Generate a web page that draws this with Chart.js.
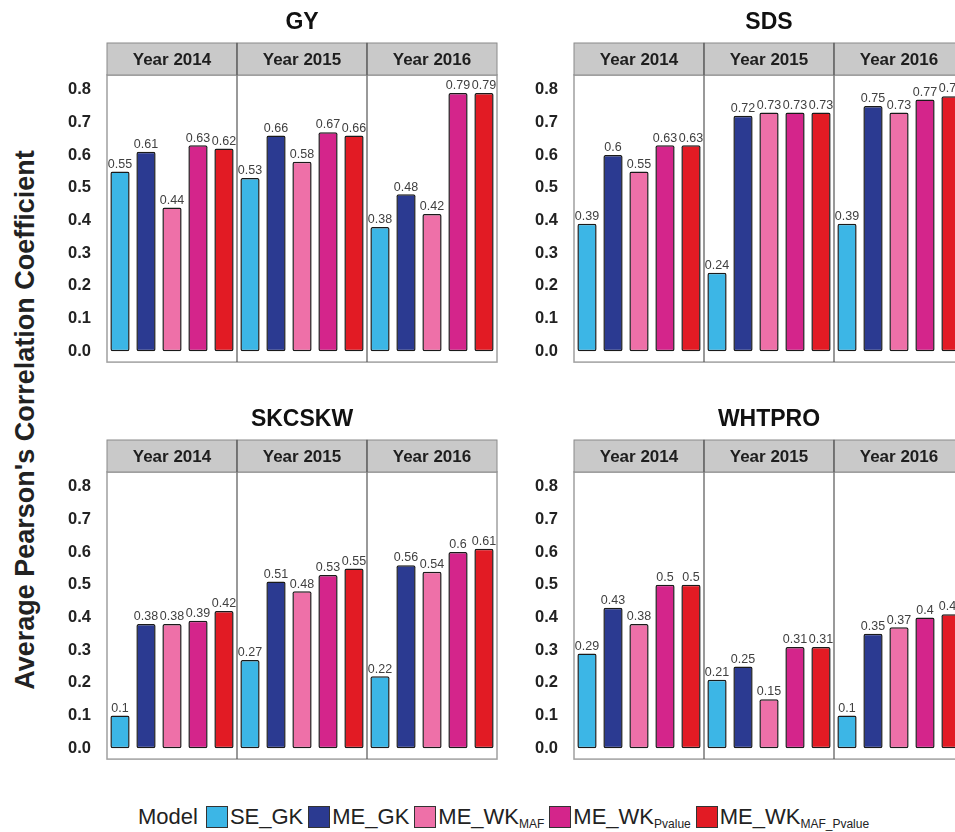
<!DOCTYPE html>
<html>
<head>
<meta charset="utf-8">
<script src="https://cdn.jsdelivr.net/npm/chart.js@4.4.0/dist/chart.umd.min.js"></script>
<style>
  html, body { margin: 0; padding: 0; background: #fff; }
  body { width: 955px; height: 832px; overflow: hidden; position: relative; font-family: "Liberation Sans", Arial, sans-serif; }
  .panel { position: absolute; width: 457px; height: 380px; }
  .ytitle {
    position: absolute; left: 25px; top: 420px;
    transform: translate(-50%, -50%) rotate(-90deg);
    white-space: nowrap; font-weight: bold; font-size: 27px; color: #222;
  }
  .legend {
    position: absolute; left: 138px; top: 806px; height: 22px; display: flex; align-items: center;
    font-size: 22px; color: #222; white-space: nowrap;
  }
  .legend .key { width: 22px; height: 22px; border: 1.5px solid #333; margin: 0 2px 0 5px; box-sizing: border-box; }
  .legend sub { font-size: 12px; vertical-align: -4px; }
</style>
</head>
<body>
<div class="ytitle">Average Pearson's Correlation Coefficient</div>
<div class="panel" style="left:50px; top:0px;"><canvas id="gy"></canvas></div>
<div class="panel" style="left:517px; top:0px;"><canvas id="sds"></canvas></div>
<div class="panel" style="left:50px; top:397px;"><canvas id="skcskw"></canvas></div>
<div class="panel" style="left:517px; top:397px;"><canvas id="whtpro"></canvas></div>
<div class="legend" id="legend"><span style="margin-right:3px">Model</span></div>
<script>
// Facets and models
const years = ['Year 2014', 'Year 2015', 'Year 2016'];
const models = ['SE_GK', 'ME_GK', 'ME_WK_MAF', 'ME_WK_Pvalue', 'ME_WK_MAF_Pvalue'];
const modelColors = ['#3cb6e6', '#2b3a91', '#ee70a8', '#d4258b', '#e21b24'];
const yTicks = [0, 0.1, 0.2, 0.3, 0.4, 0.5, 0.6, 0.7, 0.8];

// Values per trait, one array per year, in model order
const gy2014 = [0.55, 0.61, 0.44, 0.63, 0.62];
const gy2015 = [0.53, 0.66, 0.58, 0.67, 0.66];
const gy2016 = [0.38, 0.48, 0.42, 0.79, 0.79];

const sds2014 = [0.39, 0.60, 0.55, 0.63, 0.63];
const sds2015 = [0.24, 0.72, 0.73, 0.73, 0.73];
const sds2016 = [0.39, 0.75, 0.73, 0.77, 0.78];

const skcskw2014 = [0.10, 0.38, 0.38, 0.39, 0.42];
const skcskw2015 = [0.27, 0.51, 0.48, 0.53, 0.55];
const skcskw2016 = [0.22, 0.56, 0.54, 0.60, 0.61];

const whtpro2014 = [0.29, 0.43, 0.38, 0.50, 0.50];
const whtpro2015 = [0.21, 0.25, 0.15, 0.31, 0.31];
const whtpro2016 = [0.10, 0.35, 0.37, 0.40, 0.41];

// strips, facet lines, panel border, value labels
const facetPlugin = {
    id: 'facets',
    afterDatasetsDraw(chart, args, opts) {
        const ctx = chart.ctx;
        const a = chart.chartArea;
        const x = chart.scales.x;
        const n = models.length;
        const total = chart.data.labels.length;
        const edges = [];
        for (let i = 0; i <= years.length; i++) {
            const idx = i * n;
            let px;
            if (idx === 0) px = a.left;
            else if (idx >= total) px = a.right;
            else px = (x.getPixelForValue(idx - 1) + x.getPixelForValue(idx)) / 2;
            edges.push(px);
        }
        ctx.save();
        // value labels
        ctx.font = '12.5px "Liberation Sans", Arial, sans-serif';
        ctx.fillStyle = '#404040';
        ctx.textAlign = 'center';
        ctx.textBaseline = 'bottom';
        const meta = chart.getDatasetMeta(0);
        meta.data.forEach((bar, i) => {
            const v = chart.data.datasets[0].data[i];
            ctx.fillText(String(Number(v.toFixed(2))), bar.x, bar.y - 1);
        });
        // panel border
        ctx.strokeStyle = '#a0a0a0';
        ctx.lineWidth = 1.5;
        ctx.strokeRect(a.left, a.top, a.right - a.left, a.bottom - a.top);
        // facet separators
        ctx.strokeStyle = '#555';
        ctx.lineWidth = 1.2;
        for (let i = 1; i < years.length; i++) {
            ctx.beginPath();
            ctx.moveTo(edges[i], a.top);
            ctx.lineTo(edges[i], a.bottom);
            ctx.stroke();
        }
        // strips
        const stripTop = a.top - 32;
        for (let i = 0; i < years.length; i++) {
            const l = edges[i], r = edges[i + 1];
            ctx.fillStyle = '#c9c9c9';
            ctx.fillRect(l, stripTop, r - l, 32);
            ctx.strokeStyle = '#8a8a8a';
            ctx.lineWidth = 1;
            ctx.strokeRect(l, stripTop, r - l, 32);
            ctx.fillStyle = '#1e1e1e';
            ctx.font = 'bold 17px "Liberation Sans", Arial, sans-serif';
            ctx.textBaseline = 'middle';
            ctx.fillText(years[i], (l + r) / 2, stripTop + 17);
        }
        ctx.strokeStyle = '#555';
        ctx.lineWidth = 1.2;
        for (let i = 1; i < years.length; i++) {
            ctx.beginPath();
            ctx.moveTo(edges[i], stripTop);
            ctx.lineTo(edges[i], stripTop + 32);
            ctx.stroke();
        }
        // title
        ctx.fillStyle = '#111';
        ctx.font = 'bold 23px "Liberation Sans", Arial, sans-serif';
        ctx.textBaseline = 'middle';
        ctx.fillText(opts.title, (edges[0] + edges[years.length]) / 2, a.top - 52);
        ctx.restore();
    }
};

function makePanel(id, title, perYear) {
    const labels = [];
    const values = [];
    const colors = [];
    years.forEach((y, yi) => {
        models.forEach((m, mi) => {
            labels.push(y + ' ' + m);
            values.push(perYear[yi][mi]);
            colors.push(modelColors[mi]);
        });
    });
    return new Chart(document.getElementById(id), {
        type: 'bar',
        data: {
            labels: labels,
            datasets: [{
                data: values,
                backgroundColor: colors,
                borderColor: '#1a1a1a',
                borderWidth: 1.5,
                borderRadius: 2,
                borderSkipped: false,
                barPercentage: 0.74,
                categoryPercentage: 1.0
            }]
        },
        options: {
            responsive: true,
            maintainAspectRatio: false,
            animation: false,
            layout: { padding: { top: 75, right: 10, bottom: 10, left: 0 } },
            plugins: {
                legend: { display: false },
                tooltip: { enabled: false },
                facets: { title: title }
            },
            scales: {
                x: { display: false, offset: true },
                y: {
                    min: -0.033,
                    max: 0.845,
                    afterBuildTicks: s => { s.ticks = yTicks.map(v => ({ value: v })); },
                    afterFit: s => { s.width = 57; },
                    border: { display: false },
                    grid: { display: false },
                    ticks: {
                        padding: 8,
                        color: '#222',
                        font: { family: '"Liberation Sans", Arial, sans-serif', size: 16.5, weight: 'bold' },
                        callback: v => Number(v).toFixed(1)
                    }
                }
            }
        },
        plugins: [facetPlugin]
    });
}

makePanel('gy', 'GY', [gy2014, gy2015, gy2016]);
makePanel('sds', 'SDS', [sds2014, sds2015, sds2016]);
makePanel('skcskw', 'SKCSKW', [skcskw2014, skcskw2015, skcskw2016]);
makePanel('whtpro', 'WHTPRO', [whtpro2014, whtpro2015, whtpro2016]);

// legend
const legendNames = [['SE_GK', ''], ['ME_GK', ''], ['ME_WK', 'MAF'], ['ME_WK', 'Pvalue'], ['ME_WK', 'MAF_Pvalue']];
const legend = document.getElementById('legend');
legendNames.forEach((n, i) => {
    const key = document.createElement('span');
    key.className = 'key';
    key.style.background = modelColors[i];
    legend.appendChild(key);
    const t = document.createElement('span');
    t.innerHTML = n[0] + (n[1] ? '<sub>' + n[1] + '</sub>' : '');
    legend.appendChild(t);
});
</script>
</body>
</html>
